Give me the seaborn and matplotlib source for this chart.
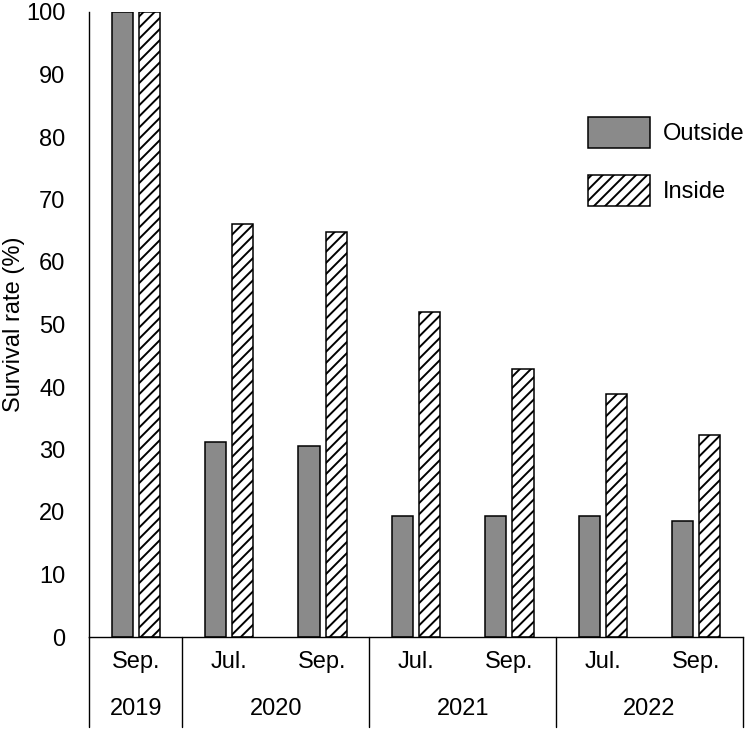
import numpy as np
import pandas as pd
import matplotlib.pyplot as plt
import seaborn as sns

months = ["Sep.", "Jul.", "Sep.", "Jul.", "Sep.", "Jul.", "Sep."]
years = ["2019", "2020", "2020", "2021", "2021", "2022", "2022"]
outside = [100, 31.2, 30.5, 19.3, 19.3, 19.3, 18.6]
inside = [100, 66.1, 64.8, 52.0, 42.9, 38.9, 32.4]
sites = ["Outside", "Inside"]

periods = [f"{m} {y}" for m, y in zip(months, years)]
df = pd.DataFrame({
    "Period": periods * 2,
    "Site": ["Outside"] * len(periods) + ["Inside"] * len(periods),
    "Survival": outside + inside,
})

sns.set_style("white")
plt.rcParams['font.family'] = ['Liberation Sans', 'DejaVu Sans']
plt.rcParams['hatch.linewidth'] = 1.4
for k in ['text.color', 'axes.labelcolor', 'xtick.color', 'ytick.color']:
    plt.rcParams[k] = 'black'

fs = 17

fig = plt.figure(figsize=(7.5, 7.31), dpi=100)
ax = fig.add_axes([89 / 750, 1 - 637 / 731, (743 - 89) / 750, (637 - 12) / 731])

sns.barplot(data=df, x="Period", y="Survival", hue="Site", order=periods,
            hue_order=sites, palette={"Outside": "#8a8a8a", "Inside": "white"},
            saturation=1, width=0.58, gap=0.22, edgecolor="black",
            linewidth=1.1, errorbar=None, legend=False, ax=ax)

for bar in ax.containers[1]:
    bar.set_hatch('///')

ax.set_xlim(-0.5, len(periods) - 0.5)
ax.set_ylim(0, 100)
ax.set_yticks(range(0, 101, 10))
ax.tick_params(axis='y', length=0, pad=17, labelsize=fs)
ax.set_xticks(range(len(periods)))
ax.set_xticklabels(months)
ax.tick_params(axis='x', length=0, pad=10, labelsize=fs)
ax.set_xlabel('')
ax.set_ylabel('Survival rate (%)', fontsize=fs, labelpad=1)

for s in ['top', 'right']:
    ax.spines[s].set_visible(False)
for s in ['left', 'bottom']:
    ax.spines[s].set_color('black')
    ax.spines[s].set_linewidth(1)

# year separators and labels under the month row
trans = ax.get_xaxis_transform()
bounds = [-0.5] + [i + 0.5 for i in range(len(years) - 1) if years[i] != years[i + 1]] + [len(years) - 0.5]
for b in bounds:
    ax.plot([b, b], [0, -0.144], transform=trans, color='black', lw=1, clip_on=False)
for y in dict.fromkeys(years):
    idx = [i for i, v in enumerate(years) if v == y]
    ax.text(np.mean(idx), -0.125, y, transform=trans, ha='center', va='baseline', fontsize=fs)

handles = [ax.containers[0][0], ax.containers[1][0]]
fig.legend(handles, sites, loc='upper left', bbox_to_anchor=(588 / 750, 1 - 117 / 731),
           frameon=False, borderpad=0, borderaxespad=0, handlelength=2.63,
           handleheight=1.64, handletextpad=0.55, labelspacing=1.14, fontsize=fs)

fig.savefig('out.png', dpi=100)
